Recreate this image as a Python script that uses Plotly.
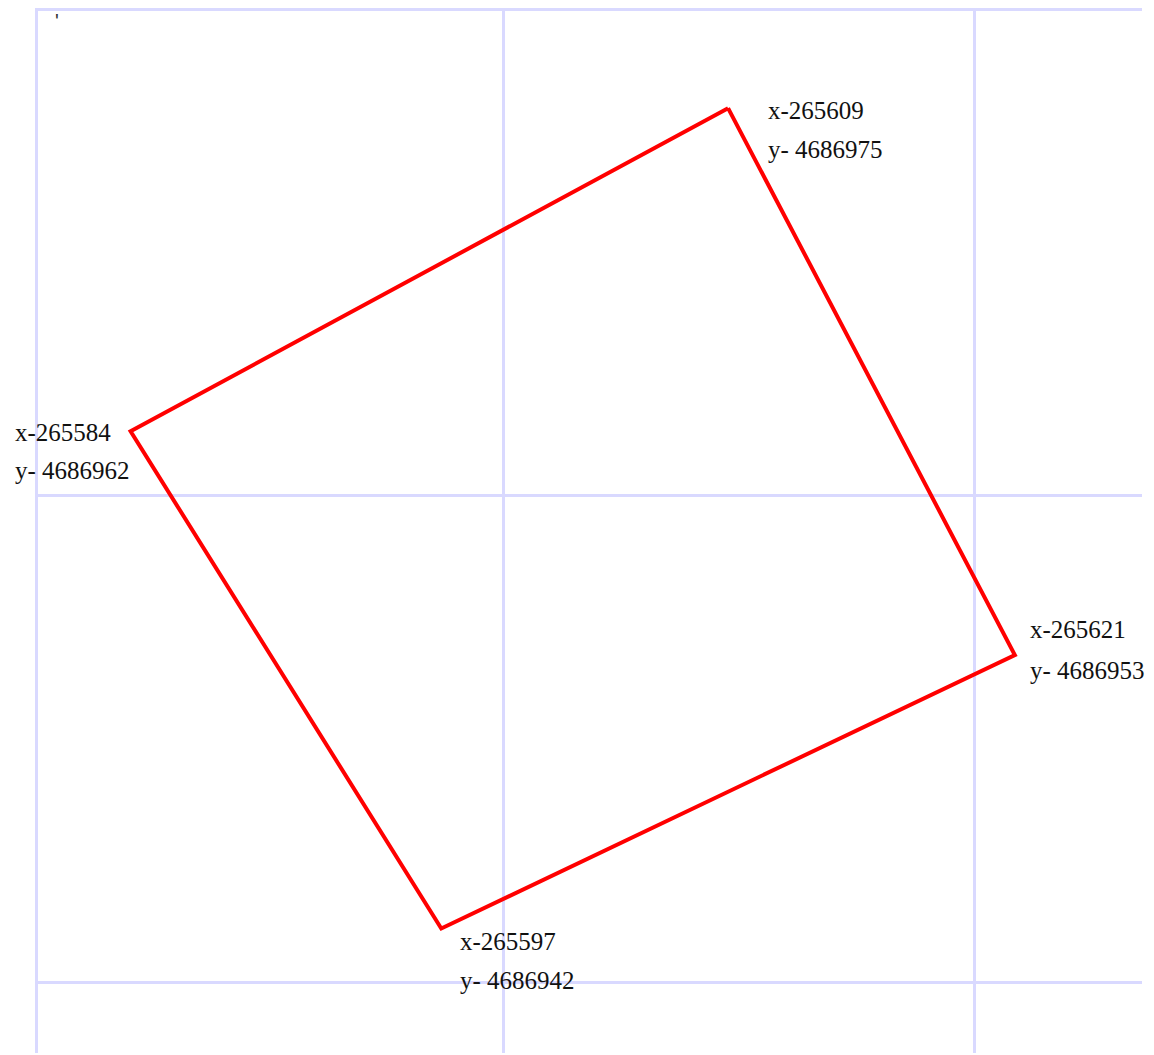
import plotly.graph_objects as go

# Polygon vertices (from the labels)
vertex_x = [265609, 265621, 265597, 265584]
vertex_y = [4686975, 4686953, 4686942, 4686962]
label_x = ["x-265609", "x-265621", "x-265597", "x-265584"]
label_y = ["y- 4686975", "y- 4686953", "y- 4686942", "y- 4686962"]

# Background grid positions
grid_x = [265580.08, 265599.62, 265619.33]
grid_y = [4686939.81, 4686959.40, 4686978.95]

# Label offsets (pixels) relative to each vertex: (xshift, yshift line1, yshift line2)
label_offsets = [(38, -2, -41), (13, 26, -15), (17, -13, -52), (-118, -1, -39)]

px = vertex_x + [vertex_x[0]]
py = vertex_y + [vertex_y[0]]

fig = go.Figure()
fig.add_trace(go.Scatter(x=px, y=py, mode="lines",
                         line=dict(color="#ff0000", width=4),
                         hoverinfo="skip", showlegend=False))

font = dict(family="Liberation Serif", size=25, color="#111111")
for xv, yv, lx, ly, (dx, dy1, dy2) in zip(vertex_x, vertex_y, label_x, label_y, label_offsets):
    fig.add_annotation(x=xv, y=yv, xref="x", yref="y", text=lx, showarrow=False,
                       xanchor="left", yanchor="middle", xshift=dx, yshift=dy1, font=font)
    fig.add_annotation(x=xv, y=yv, xref="x", yref="y", text=ly, showarrow=False,
                       xanchor="left", yanchor="middle", xshift=dx, yshift=dy2, font=font)

fig.add_annotation(x=0.0199, y=1.0, xref="paper", yref="paper", text="'",
                   showarrow=False, xanchor="center", yanchor="top",
                   font=dict(family="Liberation Sans", size=20, color="#333333"))

fig.update_layout(
    width=1146, height=1047,
    margin=dict(l=27, r=12, t=0, b=2),
    paper_bgcolor="white", plot_bgcolor="white",
    xaxis=dict(range=[265580, 265626.32], tickmode="array", tickvals=grid_x,
               showticklabels=False, ticks="", showgrid=True, gridcolor="#d9d9ff", gridwidth=3,
               zeroline=False, showline=False),
    yaxis=dict(range=[4686936.99, 4686979.03], tickmode="array", tickvals=grid_y,
               showticklabels=False, ticks="", showgrid=True, gridcolor="#d9d9ff", gridwidth=3,
               zeroline=False, showline=False),
)

fig.write_html("out.html")
